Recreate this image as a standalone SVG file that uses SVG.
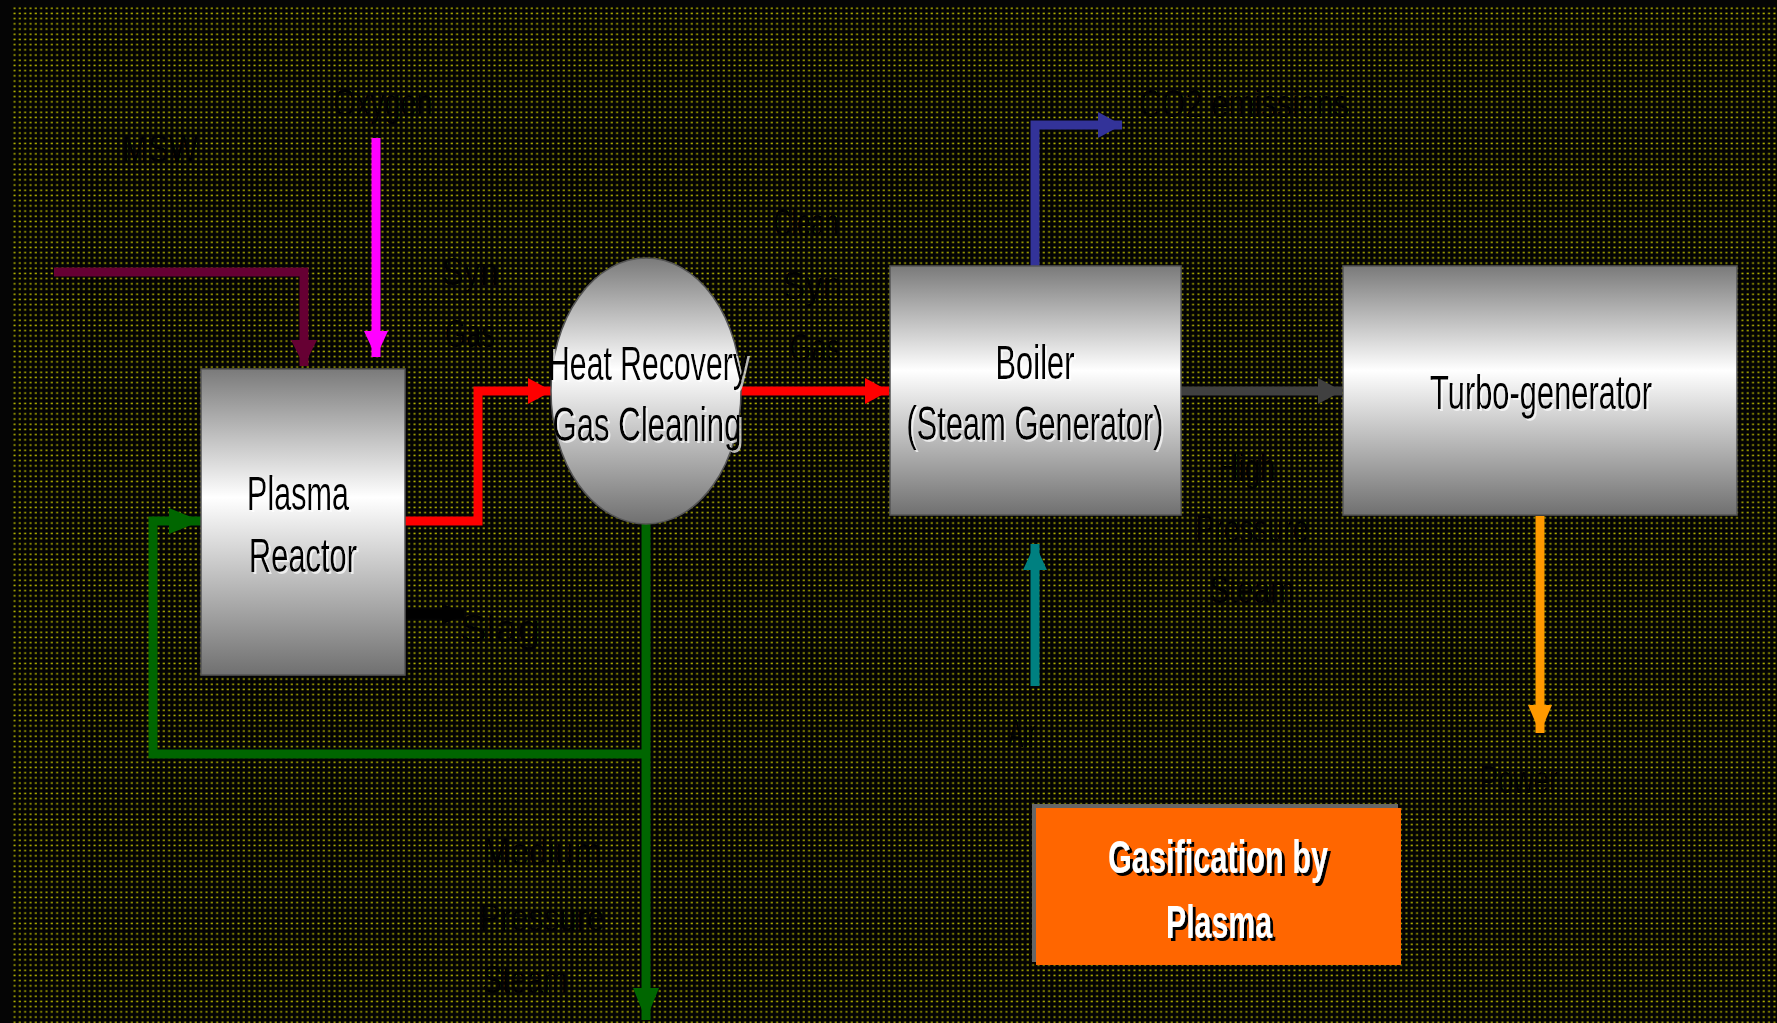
<svg xmlns="http://www.w3.org/2000/svg" width="1777" height="1023" viewBox="0 0 1777 1023">
<defs>
<pattern id="dots" x="13" y="7" width="5.333" height="5.2" patternUnits="userSpaceOnUse">
<rect x="0" y="0" width="5.333" height="5.2" fill="#030303"/>
<rect x="0.5" y="0.5" width="2" height="1.5" fill="#b4b400"/>
</pattern>
<linearGradient id="gbox" x1="0" y1="0" x2="0" y2="1">
<stop offset="0" stop-color="#7a7a7a"/>
<stop offset="0.42" stop-color="#ffffff"/>
<stop offset="1" stop-color="#707070"/>
</linearGradient>
<filter id="lightShadow" x="-10%" y="-20%" width="120%" height="140%">
<feDropShadow dx="2" dy="2" stdDeviation="0.6" flood-color="#ffffff" flood-opacity="0.7"/>
</filter>
<filter id="darkShadow" x="-10%" y="-20%" width="120%" height="140%">
<feDropShadow dx="3" dy="3" stdDeviation="0.5" flood-color="#000000" flood-opacity="1"/>
</filter>
<marker id="aMaroon" markerUnits="userSpaceOnUse" markerWidth="28" markerHeight="28" refX="26" refY="13" orient="auto"><path d="M0,0 L26,13 L0,26 z" fill="#660033"/></marker>
<marker id="aMagenta" markerUnits="userSpaceOnUse" markerWidth="28" markerHeight="28" refX="26" refY="12" orient="auto"><path d="M0,0 L26,12 L0,24 z" fill="#ff00ff"/></marker>
<marker id="aRed" markerUnits="userSpaceOnUse" markerWidth="28" markerHeight="28" refX="24" refY="13" orient="auto"><path d="M0,0 L24,13 L0,26 z" fill="#ff0000"/></marker>
<marker id="aGray" markerUnits="userSpaceOnUse" markerWidth="28" markerHeight="28" refX="24" refY="13" orient="auto"><path d="M0,0 L24,13 L0,26 z" fill="#404040"/></marker>
<marker id="aBlue" markerUnits="userSpaceOnUse" markerWidth="28" markerHeight="28" refX="24" refY="13" orient="auto"><path d="M0,0 L24,13 L0,26 z" fill="#333399"/></marker>
<marker id="aTeal" markerUnits="userSpaceOnUse" markerWidth="28" markerHeight="28" refX="26" refY="12" orient="auto"><path d="M0,0 L26,12 L0,24 z" fill="#008080"/></marker>
<marker id="aOrange" markerUnits="userSpaceOnUse" markerWidth="32" markerHeight="28" refX="28" refY="12" orient="auto"><path d="M0,0 L28,12 L0,24 z" fill="#ff9900"/></marker>
<marker id="aGreen" markerUnits="userSpaceOnUse" markerWidth="34" markerHeight="28" refX="32" refY="13" orient="auto"><path d="M0,0 L32,13 L0,26 z" fill="#006600"/></marker>
<marker id="aBlack" markerUnits="userSpaceOnUse" markerWidth="28" markerHeight="28" refX="22" refY="11" orient="auto"><path d="M0,0 L22,11 L0,22 z" fill="#000000"/></marker>
</defs>
<style>
.node { fill: url(#gbox); stroke: #555555; stroke-width: 1.5; }
.ntext { font-family: "Liberation Sans Narrow", "Liberation Sans", Arial, sans-serif; font-size: 48px; fill: #000000; text-anchor: middle; filter: url(#lightShadow); }
.label { font-family: "Liberation Sans Narrow", "Liberation Sans", Arial, sans-serif; font-size: 38px; fill: #000000; text-anchor: middle; }
.otext { font-family: "Liberation Sans Narrow", "Liberation Sans", Arial, sans-serif; font-size: 46px; font-weight: bold; fill: #ffffff; text-anchor: middle; filter: url(#darkShadow); }
.conn { fill: none; stroke-width: 9; stroke-linecap: butt; stroke-linejoin: miter; }
</style>
<rect x="0" y="0" width="1777" height="1023" fill="#050505"/>
<rect x="13" y="7" width="1764" height="1016" fill="url(#dots)"/>

<g id="connectors">
<polyline class="conn" stroke="#660033" points="54,272 304,272 304,366" marker-end="url(#aMaroon)"/>
<polyline class="conn" stroke="#ff00ff" points="376,138 376,357" marker-end="url(#aMagenta)"/>
<polyline class="conn" stroke="#ff0000" points="405,521 478,521 478,391 552,391" marker-end="url(#aRed)"/>
<polyline class="conn" stroke="#ff0000" points="740,391 889,391" marker-end="url(#aRed)"/>
<polyline class="conn" stroke="#404040" points="1181,391 1342,391" marker-end="url(#aGray)"/>
<polyline class="conn" stroke="#333399" points="1035,266 1035,125 1122,125" marker-end="url(#aBlue)"/>
<polyline class="conn" stroke="#008080" points="1035,686 1035,544" marker-end="url(#aTeal)"/>
<polyline class="conn" stroke="#ff9900" points="1540,516 1540,733" marker-end="url(#aOrange)"/>
<polyline class="conn" stroke="#006600" points="646,524 646,1020" marker-end="url(#aGreen)"/>
<polyline class="conn" stroke="#006600" points="646,754 153,754 153,521 201,521" marker-end="url(#aGreen)"/>
<polyline class="conn" stroke="#000000" stroke-width="4" points="405,614 464,614" marker-end="url(#aBlack)"/>
</g>

<g id="node-plasma-reactor">
<rect class="node" x="201" y="369" width="204" height="306"/>
<text class="ntext" x="298" y="510" textLength="102" lengthAdjust="spacingAndGlyphs">Plasma</text>
<text class="ntext" x="303" y="572" textLength="108" lengthAdjust="spacingAndGlyphs">Reactor</text>
</g>

<g id="node-heat-recovery">
<ellipse class="node" cx="646" cy="391" rx="95" ry="133"/>
<text class="ntext" x="648" y="380" textLength="200" lengthAdjust="spacingAndGlyphs">Heat Recovery</text>
<text class="ntext" x="647" y="441" textLength="189" lengthAdjust="spacingAndGlyphs">Gas Cleaning</text>
</g>

<g id="node-boiler">
<rect class="node" x="890" y="266" width="291" height="249"/>
<text class="ntext" x="1035" y="379" textLength="79" lengthAdjust="spacingAndGlyphs">Boiler</text>
<text class="ntext" x="1035" y="440" textLength="257" lengthAdjust="spacingAndGlyphs">(Steam Generator)</text>
</g>

<g id="node-turbo-generator">
<rect class="node" x="1343" y="266" width="394" height="249"/>
<text class="ntext" x="1541" y="409" textLength="222" lengthAdjust="spacingAndGlyphs">Turbo-generator</text>
</g>

<g id="node-title">
<rect x="1032" y="804" width="366" height="158" fill="#666666"/>
<rect x="1036" y="808" width="365" height="157" fill="#ff6600"/>
<text class="otext" x="1218" y="873" textLength="220" lengthAdjust="spacingAndGlyphs">Gasification by</text>
<text class="otext" x="1219" y="938" textLength="106" lengthAdjust="spacingAndGlyphs">Plasma</text>
</g>

<g id="labels">
<text class="label" x="160" y="162" textLength="76" lengthAdjust="spacingAndGlyphs">MSW</text>
<text class="label" x="383" y="116" textLength="99" lengthAdjust="spacingAndGlyphs">Oxygen</text>
<text class="label" x="470" y="285" textLength="57" lengthAdjust="spacingAndGlyphs">Syn</text>
<text class="label" x="470" y="347" textLength="50" lengthAdjust="spacingAndGlyphs">Gas</text>
<text class="label" x="806" y="236" textLength="65" lengthAdjust="spacingAndGlyphs">Clean</text>
<text class="label" x="812" y="299" textLength="60" lengthAdjust="spacingAndGlyphs">Syn</text>
<text class="label" x="815" y="361" textLength="51" lengthAdjust="spacingAndGlyphs">Gas</text>
<text class="label" x="1244" y="117" textLength="210" lengthAdjust="spacingAndGlyphs">CO2 emissions</text>
<text class="label" x="500" y="642" textLength="80" lengthAdjust="spacingAndGlyphs">Slag</text>
<text class="label" x="1247" y="481" textLength="57" lengthAdjust="spacingAndGlyphs">High</text>
<text class="label" x="1252" y="542" textLength="113" lengthAdjust="spacingAndGlyphs">Pressure</text>
<text class="label" x="1252" y="603" textLength="85" lengthAdjust="spacingAndGlyphs">Steam</text>
<text class="label" x="1022" y="747" textLength="28" lengthAdjust="spacingAndGlyphs">Air</text>
<text class="label" x="1519" y="793" textLength="79" lengthAdjust="spacingAndGlyphs">Power</text>
<text class="label" x="542" y="865" textLength="119" lengthAdjust="spacingAndGlyphs">Medium</text>
<text class="label" x="542" y="931" textLength="125" lengthAdjust="spacingAndGlyphs">Pressure</text>
<text class="label" x="525" y="993" textLength="85" lengthAdjust="spacingAndGlyphs">Steam</text>
</g>
</svg>
